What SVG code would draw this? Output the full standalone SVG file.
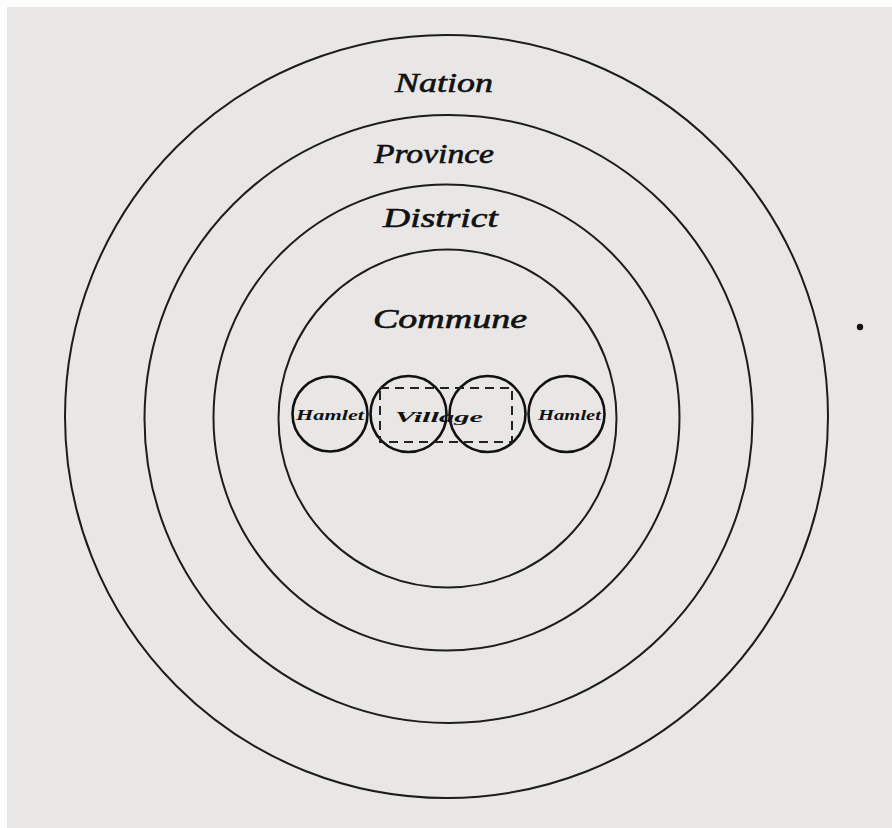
<svg xmlns="http://www.w3.org/2000/svg" width="892" height="828" viewBox="0 0 892 828">
<style>
.ring{fill:none;stroke:#1c1c1c;stroke-width:2}
.small{fill:none;stroke:#111;stroke-width:2.6}
.dash{fill:none;stroke:#222;stroke-width:2;stroke-dasharray:9 6}
.big{font-family:"Liberation Serif","DejaVu Serif",serif;font-style:italic;font-size:27px;fill:#111;stroke:#111;stroke-width:0.6}
.lab{font-family:"Liberation Serif","DejaVu Serif",serif;font-style:italic;font-weight:bold;font-size:15px;fill:#111}
</style>
<rect x="0" y="0" width="892" height="828" fill="#fdfdfd"/>
<rect x="7" y="7" width="885" height="821" fill="#e8e7e5"/>
<circle cx="860" cy="327" r="3.2" fill="#111"/>
<g id="nation">
<circle class="ring" cx="446.5" cy="416.5" r="381.5"/>
<text class="big" x="395" y="92" textLength="98" lengthAdjust="spacingAndGlyphs">Nation</text>
</g>
<g id="province">
<circle class="ring" cx="448.5" cy="419" r="304"/>
<text class="big" x="374" y="163" textLength="120" lengthAdjust="spacingAndGlyphs">Province</text>
</g>
<g id="district">
<circle class="ring" cx="446.5" cy="417.5" r="233"/>
<text class="big" x="383" y="227" textLength="115" lengthAdjust="spacingAndGlyphs">District</text>
</g>
<g id="commune">
<circle class="ring" cx="447.5" cy="418.5" r="169"/>
<text class="big" x="373" y="328" textLength="154" lengthAdjust="spacingAndGlyphs">Commune</text>
</g>
<g id="hamlet-left">
<circle class="small" cx="330" cy="414" r="37.5"/>
<text class="lab" x="296" y="420" textLength="68" lengthAdjust="spacingAndGlyphs">Hamlet</text>
</g>
<g id="village">
<circle class="small" cx="408.5" cy="414" r="38"/>
<circle class="small" cx="487.5" cy="414" r="38"/>
<rect class="dash" x="380" y="388" width="132" height="54"/>
<text class="lab" x="395" y="422" textLength="88" lengthAdjust="spacingAndGlyphs">Village</text>
</g>
<g id="hamlet-right">
<circle class="small" cx="566.5" cy="414" r="38"/>
<text class="lab" x="538" y="420" textLength="63" lengthAdjust="spacingAndGlyphs">Hamlet</text>
</g>
</svg>
